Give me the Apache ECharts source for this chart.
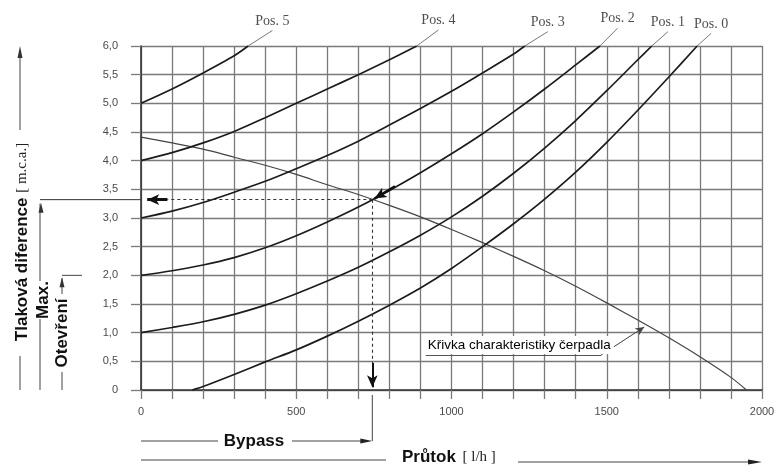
<!DOCTYPE html>
<html><head><meta charset="utf-8">
<script src="https://cdn.jsdelivr.net/npm/echarts/dist/echarts.min.js"></script>
<style>html,body{margin:0;padding:0;background:#fff}#c{width:776px;height:475px}</style>
</head><body><div id="c"></div>
<script>
// ---- data (x: flow l/h, y: pressure m.c.a.) ----
const xTicks = [0, 500, 1000, 1500, 2000];
const yTicks = [0, 0.5, 1, 1.5, 2, 2.5, 3, 3.5, 4, 4.5, 5, 5.5, 6];
const pos0 = [[165,0],[200,0.06],[300,0.27],[400,0.49],[500,0.70],[600,0.94],[700,1.2],[800,1.48],[900,1.78],[1000,2.12],[1100,2.5],[1200,2.9],[1300,3.33],[1400,3.8],[1500,4.32],[1600,4.88],[1700,5.46],[1791,6.0]];
const pos1 = [[0,1.0],[100,1.09],[200,1.19],[300,1.32],[400,1.48],[500,1.68],[600,1.90],[700,2.14],[800,2.41],[900,2.70],[1000,3.02],[1100,3.38],[1200,3.78],[1300,4.22],[1400,4.7],[1500,5.22],[1600,5.76],[1645,6.0]];
const pos2 = [[0,2.0],[100,2.08],[200,2.18],[300,2.31],[400,2.48],[500,2.69],[600,2.93],[700,3.19],[800,3.48],[900,3.79],[1000,4.12],[1100,4.47],[1200,4.85],[1300,5.25],[1400,5.67],[1478,6.0]];
const pos3 = [[0,3.0],[100,3.12],[200,3.27],[300,3.45],[400,3.64],[500,3.86],[600,4.09],[700,4.34],[800,4.62],[900,4.91],[1000,5.21],[1100,5.53],[1200,5.86],[1236,6.0]];
const pos4 = [[0,4.0],[100,4.14],[200,4.31],[300,4.51],[400,4.75],[500,5.0],[600,5.25],[700,5.5],[800,5.76],[888,6.0]];
const pos5 = [[0,5.0],[100,5.25],[200,5.53],[300,5.83],[345,6.0]];
const pump = [[0,4.41],[100,4.31],[200,4.2],[300,4.06],[400,3.92],[500,3.76],[600,3.58],[700,3.41],[800,3.22],[900,3.02],[1000,2.80],[1100,2.57],[1200,2.33],[1300,2.08],[1400,1.81],[1500,1.52],[1600,1.22],[1700,0.91],[1800,0.58],[1900,0.22],[1950,0]];
const posNames = ['Pos. 0','Pos. 1','Pos. 2','Pos. 3','Pos. 4','Pos. 5'];
const leaderEnds = [[1836,6.22],[1697,6.25],[1535,6.31],[1310,6.25],[958,6.28],[423,6.27]];
const operatingPoint = [745, 3.32];
const pumpLabel = 'Křivka charakteristiky čerpadla';
const pumpLeader = [[917,0.61],[1482,0.61],[1621,1.10]];
const yTitle = 'Tlaková diference';
const yUnit = '[ m.c.a.]';
const xTitle = 'Průtok';
const xUnit = '[ l/h ]';

// ---- chart ----
const chart = echarts.init(document.getElementById('c'), null, {renderer:'canvas'});
const curves = [pos0,pos1,pos2,pos3,pos4,pos5];
const gridColor = '#7a7a7a';
const tickFont = {fontFamily:'Liberation Sans, Arial, sans-serif', fontSize:11, color:'#4a4a4a'};
const serif = 'Liberation Serif, Times New Roman, serif';

const series = [];
curves.forEach((d,i)=>{
  series.push({name:posNames[i], type:'line', data:d, showSymbol:false, symbol:'none', smooth:0.3,
    lineStyle:{color:'#1c1c1c', width:1.7}, silent:true, z:4, animation:false});
  series.push({type:'line', data:[d[d.length-1], leaderEnds[i]], showSymbol:false, symbol:'none',
    lineStyle:{color:'#555', width:0.8}, clip:false, silent:true, z:3, animation:false});
});
series.push({type:'scatter', data:posNames.map((n,i)=>({name:n, value:leaderEnds[i]})), symbolSize:1,
  itemStyle:{color:'rgba(0,0,0,0)'}, clip:false, silent:true, animation:false,
  label:{show:true, position:'top', distance:2, formatter:'{b}', fontFamily:serif, fontSize:14, color:'#222'}});

const op = operatingPoint;
function seg(a, b, style, endSym, endSize){
  return [{coord:a, symbol:'none', lineStyle:style}, {coord:b, symbol:endSym||'none', symbolSize:endSize||0}];
}
series.push({name:'pump', type:'line', data:pump, showSymbol:false, symbol:'none', smooth:0.3,
  lineStyle:{color:'#444', width:1.2}, silent:true, z:3, animation:false,
  markLine:{silent:true, animation:false, symbol:['none','none'], label:{show:false}, z:5,
    data:[
      seg([op[0],op[1]],[85,op[1]],{type:[3,3], color:'#333', width:1.1}),
      seg([85,op[1]],[20,op[1]],{type:'solid', color:'#111', width:3},'arrow',[8,12]),
      seg([op[0],op[1]],[op[0],0.47],{type:[3,3], color:'#333', width:1.1}),
      seg([op[0],0.47],[op[0],0.05],{type:'solid', color:'#111', width:2},'arrow',[8,12]),
      seg([818,3.55],[752,3.34],{type:'solid', color:'#111', width:2.6},'arrow',[8,12]),
      seg(pumpLeader[0],pumpLeader[1],{type:'solid', color:'#555', width:1}),
      seg(pumpLeader[1],pumpLeader[2],{type:'solid', color:'#444', width:1},'arrow',[6,9])
    ]}
});

chart.setOption({
  animation:false,
  backgroundColor:'#fff',
  grid:{left:141, right:14, top:46, bottom:85, containLabel:false, outerBoundsMode:'none'},
  xAxis:{type:'value', min:0, max:2000, interval:100,
    axisLine:{show:true, onZero:false, lineStyle:{color:'#333', width:1.6}},
    axisTick:{show:true, length:9, lineStyle:{color:gridColor, width:1.3}},
    axisLabel:Object.assign({margin:16, formatter:v=>xTicks.includes(v)?String(v):''}, tickFont),
    splitLine:{show:true, lineStyle:{color:gridColor, width:1.3}}},
  yAxis:{type:'value', min:0, max:6, interval:0.5,
    axisLine:{show:true, onZero:false, lineStyle:{color:'#333', width:1.6}},
    axisTick:{show:true, length:10, lineStyle:{color:gridColor, width:1.3}},
    axisLabel:Object.assign({margin:23, formatter:v=>yTicks.includes(v)?(v===0?'0':v.toFixed(1).replace('.',',')):''}, tickFont),
    splitLine:{show:true, lineStyle:{color:gridColor, width:1.3}}},
  series:series
});

// ---- decorations outside the plot ----
const P = chart.convertToPixel({gridIndex:0}, op);
const opX = P[0], opY = P[1];
const yBase = chart.convertToPixel({gridIndex:0}, [0,0])[1];
const y2 = chart.convertToPixel({gridIndex:0}, [0,2])[1];
const x0 = chart.convertToPixel({gridIndex:0}, [0,0])[0];
const xEnd = chart.convertToPixel({gridIndex:0}, [2000,0])[0];
const lblPix = chart.convertToPixel({gridIndex:0}, [pumpLeader[0][0], pumpLeader[0][1]]);
const boldFont = 'Liberation Sans, Arial, sans-serif';
const ln = (x1,y1,x2,y2,w,c)=>({type:'line', silent:true, shape:{x1,y1,x2,y2}, style:{stroke:c||'#333', lineWidth:w||1}});
const tri = (pts,c)=>({type:'polygon', silent:true, shape:{points:pts}, style:{fill:c||'#222'}});
const vtext = (x,y,text,rich)=>({type:'text', silent:true, x, y, rotation:Math.PI/2,
  style:{text, rich, align:'center', verticalAlign:'middle', font:'bold 17px '+boldFont, fill:'#111'}});

const g = [
  // y title
  vtext(22, 242, '{b|'+yTitle+'} {s|'+yUnit+'}', {b:{font:'bold 17px '+boldFont, fill:'#111'}, s:{font:'15px '+serif, fill:'#222'}}),
  ln(20,58,20,130,1,'#444'), tri([[20,46],[17.5,58],[22.5,58]],'#333'),
  ln(20,356,20,yBase,1,'#444'),
  // Max.
  vtext(43, 300, 'Max.'),
  ln(40,opY,x0,opY,1,'#333'),
  ln(40,opY+4,40,281,1,'#444'), tri([[41,opY+3],[38.5,opY+13],[43.5,opY+13]],'#333'),
  ln(40,319,40,yBase,1,'#444'),
  // Otevření
  vtext(62, 333, 'Otevření'),
  ln(62,y2,82,y2,1,'#444'),
  ln(62,y2+3,62,294,1,'#444'), tri([[62,y2+2],[59.5,y2+12],[64.5,y2+12]],'#333'),
  ln(62,372,62,yBase,1,'#444'),
  // Bypass
  ln(x0,441,218,441,1,'#444'),
  {type:'text', silent:true, x:254, y:441, style:{text:'Bypass', align:'center', verticalAlign:'middle', font:'bold 17px '+boldFont, fill:'#111'}},
  ln(292,441,opX-6,441,1,'#444'), tri([[opX,441],[opX-12,438.5],[opX-12,443.5]],'#222'),
  ln(opX,yBase+5,opX,441,1,'#444'),
  // Průtok
  ln(x0,460,386,460,1,'#444'),
  {type:'text', silent:true, x:402, y:457, style:{text:'{b|'+xTitle+'}  {s|'+xUnit+'}', rich:{b:{font:'bold 17px '+boldFont, fill:'#111'}, s:{font:'15px '+serif, fill:'#222'}}, align:'left', verticalAlign:'middle'}},
  ln(518,462,xEnd-8,462,1,'#444'), tri([[xEnd,462],[xEnd-14,459.5],[xEnd-14,464.5]],'#222'),
  // pump label
  {type:'text', silent:true, z:10, x:lblPix[0], y:lblPix[1]-10, style:{text:pumpLabel, align:'left', verticalAlign:'middle', font:'13.5px '+boldFont, fill:'#000', backgroundColor:'#fff', padding:[2,3,2,2]}}
];
chart.setOption({graphic:g});
</script></body></html>
